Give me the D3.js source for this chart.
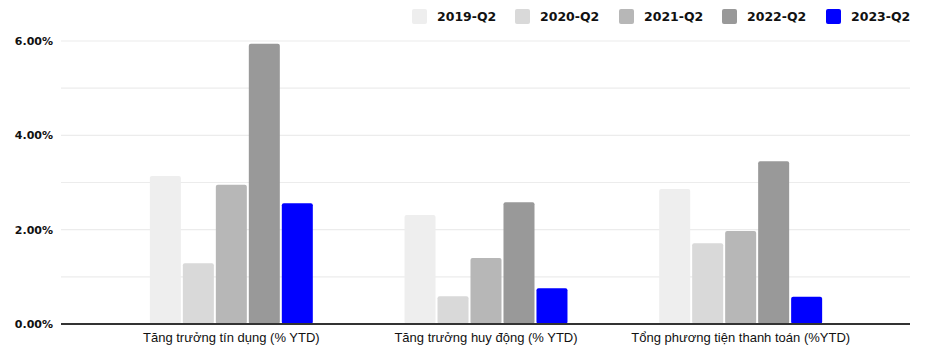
<!DOCTYPE html>
<html>
<head>
<meta charset="utf-8">
<script src="https://cdn.jsdelivr.net/npm/d3@7"></script>
<style>
  html, body { margin: 0; padding: 0; background: #fff; }
  svg { display: block; }
</style>
</head>
<body>
<svg id="chart" width="933" height="348"></svg>
<script>
// Growth indicators, % year-to-date, Q2 of each year
const categories = [
  "Tăng trưởng tín dụng (% YTD)",
  "Tăng trưởng huy động (% YTD)",
  "Tổng phương tiện thanh toán (%YTD)"
];
const seriesNames = ["2019-Q2", "2020-Q2", "2021-Q2", "2022-Q2", "2023-Q2"];
const seriesColors = ["#eeeeee", "#d9d9d9", "#b7b7b7", "#999999", "#0000ff"];
const values2019 = [3.14, 2.31, 2.86];
const values2020 = [1.29, 0.59, 1.71];
const values2021 = [2.95, 1.40, 1.97];
const values2022 = [5.94, 2.58, 3.45];
const values2023 = [2.56, 0.76, 0.58];
const yTicks = [0, 2, 4, 6];

const seriesValues = [values2019, values2020, values2021, values2022, values2023];

const svg = d3.select("#chart");
const plotLeft = 61, plotRight = 910, plotTop = 41, plotBottom = 324;

const y = d3.scaleLinear().domain([0, 6]).range([plotBottom, plotTop]);
const x0 = d3.scaleBand().domain(categories).range([104, 868]).paddingInner(0).paddingOuter(0);
const x1 = d3.scaleBand().domain(seriesNames).range([0, x0.bandwidth()]).paddingInner(0.06).paddingOuter(1.39);

// gridlines every 1%
const gridVals = d3.range(1, 7, 1);
svg.append("g")
  .selectAll("line")
  .data(gridVals)
  .join("line")
  .attr("x1", plotLeft).attr("x2", plotRight)
  .attr("y1", d => y(d)).attr("y2", d => y(d))
  .attr("stroke", "#ececec").attr("stroke-width", 1.2);

// y-axis labels
const yAxis = d3.axisLeft(y).tickValues(yTicks).tickFormat(d => d.toFixed(2) + "%").tickSize(0).tickPadding(8);
const gy = svg.append("g").attr("transform", `translate(${plotLeft},0)`).call(yAxis);
gy.select(".domain").remove();
gy.selectAll("text")
  .attr("font-family", "'DejaVu Sans', Verdana, sans-serif")
  .attr("font-weight", "bold")
  .attr("font-size", "11px")
  .attr("fill", "#111");

// bars
const groups = svg.append("g")
  .selectAll("g")
  .data(categories)
  .join("g")
  .attr("transform", d => `translate(${x0(d)},0)`);

groups.selectAll("rect")
  .data((c, i) => seriesNames.map((s, k) => ({ s, v: seriesValues[k][i], color: seriesColors[k] })))
  .join("rect")
  .attr("x", d => x1(d.s))
  .attr("width", x1.bandwidth())
  .attr("y", d => y(d.v))
  .attr("height", d => plotBottom - y(d.v))
  .attr("rx", 2)
  .attr("fill", d => d.color);

// baseline
svg.append("line")
  .attr("x1", plotLeft).attr("x2", plotRight)
  .attr("y1", plotBottom).attr("y2", plotBottom)
  .attr("stroke", "#333").attr("stroke-width", 2);

// category labels
const xAxis = d3.axisBottom(x0).tickSize(0).tickPadding(9);
const gx = svg.append("g").attr("transform", `translate(0,${plotBottom})`).call(xAxis);
gx.select(".domain").remove();
gx.selectAll("text")
  .attr("font-family", "'Liberation Sans', Arial, sans-serif")
  .attr("font-size", "13px")
  .attr("fill", "#111");

// legend
const legendX = [412, 515, 619, 722, 826];
const legend = svg.append("g")
  .selectAll("g")
  .data(seriesNames)
  .join("g")
  .attr("transform", (d, i) => `translate(${legendX[i]},9)`);
legend.append("rect")
  .attr("width", 15).attr("height", 15).attr("rx", 2)
  .attr("fill", (d, i) => seriesColors[i]);
legend.append("text")
  .attr("x", 25).attr("y", 12)
  .attr("font-family", "'DejaVu Sans', Verdana, sans-serif")
  .attr("font-weight", "bold")
  .attr("font-size", "12.5px")
  .attr("fill", "#111")
  .text(d => d);
</script>
</body>
</html>
